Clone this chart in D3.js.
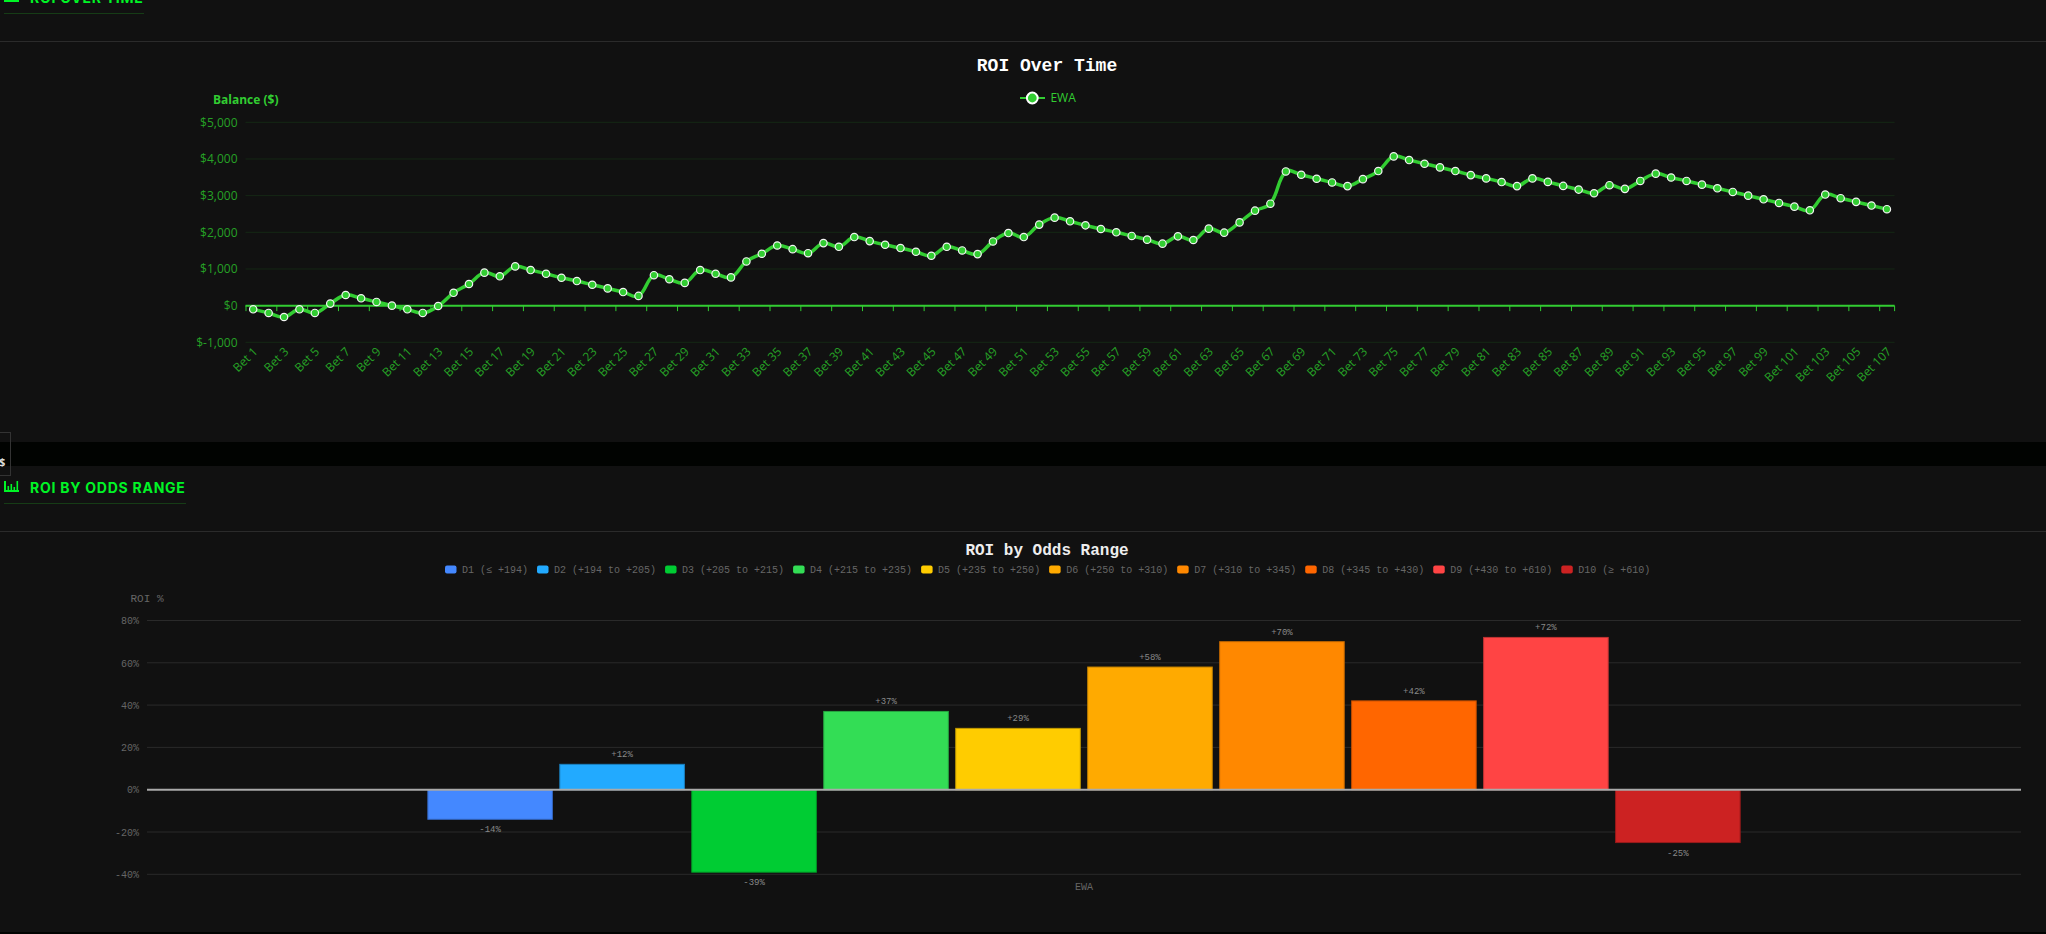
<!DOCTYPE html>
<html>
<head>
<meta charset="utf-8">
<script src="https://cdn.jsdelivr.net/npm/d3@7"></script>
<style>
  html, body { margin: 0; padding: 0; background: #111111; overflow: hidden; }
  svg { display: block; }
  .mono { font-family: "Liberation Mono", monospace; }
  .sans { font-family: "Open Sans", sans-serif; }
  .head { font-family: Inter, sans-serif; font-weight: 700; font-size: 14px; letter-spacing: 0.75px; fill: #00f526; }
</style>
</head>
<body>
<svg id="page" width="2046" height="934"></svg>
<script>
// Running balance after each bet
const betBalances = [
  -100,-200,-310,-100,-200,55,290,200,100,0,-100,-200,-10,350,590,900,800,1070,970,870,
  760,670,570,470,370,265,830,720,620,970,870,770,1205,1415,1640,1540,1430,1705,1605,1870,
  1760,1660,1570,1470,1360,1605,1505,1405,1750,1980,1870,2210,2400,2300,2190,2090,2000,1900,1800,1690,
  1890,1790,2100,1990,2270,2590,2780,3660,3570,3460,3360,3260,3450,3670,4070,3970,3870,3770,3670,3560,
  3470,3370,3260,3470,3375,3265,3165,3065,3285,3185,3400,3600,3495,3400,3300,3200,3100,3000,2900,2800,
  2700,2600,3030,2930,2830,2730,2630
];
const betLabels = betBalances.map((_, i) => `Bet ${i + 1}`);
const balanceTicks = [-1000, 0, 1000, 2000, 3000, 4000, 5000];

// ROI per odds decile
const oddsRanges = [
  "D1 (≤ +194)", "D2 (+194 to +205)", "D3 (+205 to +215)", "D4 (+215 to +235)", "D5 (+235 to +250)",
  "D6 (+250 to +310)", "D7 (+310 to +345)", "D8 (+345 to +430)", "D9 (+430 to +610)", "D10 (≥ +610)"
];
const roiValues = [-14, 12, -39, 37, 29, 58, 70, 42, 72, -25];
const oddsColors = ["#4488ff","#22aaff","#00cc33","#33dd55","#ffcc00","#ffaa00","#ff8800","#ff6600","#ff4444","#cc2222"];
const roiTicks = [-40, -20, 0, 20, 40, 60, 80];
const strategies = ["EWA"];

const GREEN = "#32cd32";
const svg = d3.select("#page");

// Distance-weighted bezier spline (tension 0.4), used as a d3 curve factory
function tensionSpline(context) {
  let pts = [];
  return {
    areaStart() {}, areaEnd() {},
    lineStart() { pts = []; },
    point(x, y) { pts.push([+x, +y]); },
    lineEnd() {
      const t = 0.4, n = pts.length;
      const ctrl = pts.map((p, i) => {
        const a = pts[Math.max(i - 1, 0)], b = pts[Math.min(i + 1, n - 1)];
        const d01 = Math.hypot(p[0] - a[0], p[1] - a[1]);
        const d12 = Math.hypot(b[0] - p[0], b[1] - p[1]);
        const sum = (d01 + d12) || 1;
        const fa = t * d01 / sum, fb = t * d12 / sum;
        return {
          prev: [p[0] - fa * (b[0] - a[0]), p[1] - fa * (b[1] - a[1])],
          next: [p[0] + fb * (b[0] - a[0]), p[1] + fb * (b[1] - a[1])]
        };
      });
      context.moveTo(pts[0][0], pts[0][1]);
      for (let i = 1; i < n; i++) {
        context.bezierCurveTo(ctrl[i - 1].next[0], ctrl[i - 1].next[1], ctrl[i].prev[0], ctrl[i].prev[1], pts[i][0], pts[i][1]);
      }
    }
  };
}

// Page panels and dividers
svg.append("rect").attr("width", 2046).attr("height", 934).attr("fill", "#111111");
svg.append("rect").attr("y", 442).attr("width", 2046).attr("height", 24).attr("fill", "#010301");
svg.append("rect").attr("y", 932).attr("width", 2046).attr("height", 2).attr("fill", "#010301");
svg.append("rect").attr("x", -10).attr("y", 432.5).attr("width", 20.5).attr("height", 43)
  .attr("fill", "none").attr("stroke", "#333");
svg.append("text").attr("x", -1).attr("y", 465.5).attr("class", "sans")
  .attr("font-size", 11).attr("font-weight", 700).attr("fill", "#ddd").text("$");

// Section heading: icon, caps title, underline, divider
function sectionHeader(offset, label, underlineEnd) {
  const g = svg.append("g").attr("transform", `translate(0,${offset})`);
  const icon = g.append("g").attr("fill", "#00f526");
  icon.append("rect").attr("x", 4).attr("y", 481).attr("width", 2).attr("height", 11);
  icon.append("rect").attr("x", 4).attr("y", 490).attr("width", 15).attr("height", 2);
  [[8, 486, 3], [11, 484, 5], [14, 487, 2], [17, 481, 8]].forEach(([x, y, h]) =>
    icon.append("rect").attr("x", x - 0.5).attr("y", y).attr("width", 1.6).attr("height", h + 1));
  g.append("text").attr("class", "head").attr("x", 30).attr("y", 492.6).text(label);
  g.append("rect").attr("x", 4).attr("y", 503).attr("width", underlineEnd - 4).attr("height", 1).attr("fill", "#163c16");
  g.append("rect").attr("x", 0).attr("y", 531).attr("width", 2046).attr("height", 1).attr("fill", "#2b2b2b");
}
sectionHeader(-490, "ROI OVER TIME", 144);
sectionHeader(0, "ROI BY ODDS RANGE", 186);

// ---- Balance line chart ----
const lineBox = { left: 245.5, right: 1894.6, top: 122.3, bottom: 342.3 };
const xBet = d3.scaleBand().domain(betLabels).range([lineBox.left, lineBox.right]);
const yBal = d3.scaleLinear().domain([-1000, 5000]).range([lineBox.bottom, lineBox.top]);

const lineChart = svg.append("g");
const yAxisLine = d3.axisLeft(yBal).tickValues(balanceTicks)
  .tickSize(0).tickPadding(8)
  .tickFormat(v => "$" + v.toLocaleString("en-US"));
const yLine = lineChart.append("g").attr("transform", `translate(${lineBox.left},0)`).call(yAxisLine);
yLine.select(".domain").remove();
yLine.selectAll("text").attr("class", "sans").attr("font-size", 12).attr("fill", "#26a126");

lineChart.append("g").selectAll("line").data(balanceTicks.filter(v => v !== 0)).join("line")
  .attr("x1", lineBox.left).attr("x2", lineBox.right)
  .attr("y1", d => yBal(d)).attr("y2", d => yBal(d))
  .attr("stroke", GREEN).attr("stroke-opacity", 0.12);

// Tick marks sit on band edges, labels hang from every other bet
const xAxisLine = d3.axisBottom(xBet)
  .tickValues(betLabels.filter((_, i) => i % 2 === 0))
  .tickSize(0);
const xLine = lineChart.append("g").attr("transform", `translate(0,${yBal(0)})`).call(xAxisLine);
xLine.select(".domain").remove();
xLine.selectAll(".tick text")
  .attr("class", "sans").attr("font-size", 12).attr("fill", "#26a126")
  .attr("text-anchor", "end")
  .attr("transform", "translate(2.5,44) rotate(-45)")
  .attr("x", 0).attr("y", 0).attr("dy", "0.32em");

const edgeTicks = betLabels.filter((_, i) => i % 2 === 0).map(b => xBet(b)).concat([lineBox.right - 0.5]);
lineChart.append("g").selectAll("line").data(edgeTicks).join("line")
  .attr("x1", d => d + 0.5).attr("x2", d => d + 0.5)
  .attr("y1", yBal(0)).attr("y2", yBal(0) + 5.5)
  .attr("stroke", GREEN).attr("stroke-width", 1);
lineChart.append("line").attr("x1", lineBox.left).attr("x2", lineBox.right)
  .attr("y1", yBal(0)).attr("y2", yBal(0)).attr("stroke", GREEN).attr("stroke-width", 2);

const balancePath = d3.line()
  .x((_, i) => xBet(betLabels[i]) + xBet.bandwidth() / 2)
  .y(d => yBal(d))
  .curve(tensionSpline);
lineChart.append("path").datum(betBalances).attr("d", balancePath)
  .attr("fill", "none").attr("stroke", GREEN).attr("stroke-width", 3.5);
lineChart.append("g").selectAll("circle").data(betBalances).join("circle")
  .attr("cx", (_, i) => xBet(betLabels[i]) + xBet.bandwidth() / 2)
  .attr("cy", d => yBal(d)).attr("r", 3.7)
  .attr("fill", GREEN).attr("stroke", "#f4f4f4").attr("stroke-width", 1.2);

lineChart.append("text").attr("class", "mono").attr("x", 1047).attr("y", 70.5)
  .attr("text-anchor", "middle").attr("font-size", 18).attr("font-weight", 700).attr("fill", "#fff")
  .text("ROI Over Time");
lineChart.append("line").attr("x1", 1020).attr("x2", 1045).attr("y1", 98).attr("y2", 98)
  .attr("stroke", GREEN).attr("stroke-width", 2);
lineChart.append("circle").attr("cx", 1032.3).attr("cy", 98).attr("r", 5.4)
  .attr("fill", GREEN).attr("stroke", "#fff").attr("stroke-width", 2);
lineChart.append("text").attr("class", "sans").attr("x", 1050.4).attr("y", 102.2)
  .attr("font-size", 12).attr("fill", GREEN).text(strategies[0]);
lineChart.append("text").attr("class", "sans").attr("x", 213).attr("y", 104)
  .attr("font-size", 12).attr("font-weight", 700).attr("fill", GREEN).text("Balance ($)");

// ---- ROI bar chart ----
const barBox = { left: 147, right: 2021, top: 620.5, bottom: 874.3 };
const xGroup = d3.scaleBand().domain(strategies).range([barBox.left, barBox.right]).paddingInner(0).paddingOuter(0.21);
const xDecile = d3.scaleBand().domain(oddsRanges)
  .range([xGroup(strategies[0]), xGroup(strategies[0]) + xGroup.bandwidth()])
  .paddingInner(0.056).paddingOuter(0.028);
const yRoi = d3.scaleLinear().domain([-40, 80]).range([barBox.bottom, barBox.top]);

const barChart = svg.append("g");
const yAxisBar = d3.axisLeft(yRoi).tickValues(roiTicks).tickSize(0).tickPadding(8).tickFormat(v => v + "%");
const yBar = barChart.append("g").attr("transform", `translate(${barBox.left},0)`).call(yAxisBar);
yBar.select(".domain").remove();
yBar.selectAll("text").attr("class", "mono").attr("font-size", 10).attr("fill", "#666");

barChart.append("g").selectAll("line").data(roiTicks.filter(v => v !== 0)).join("line")
  .attr("x1", barBox.left).attr("x2", barBox.right)
  .attr("y1", d => yRoi(d)).attr("y2", d => yRoi(d))
  .attr("stroke", "#2a2a2a");

barChart.append("g").selectAll("rect").data(roiValues).join("rect")
  .attr("x", (_, i) => xDecile(oddsRanges[i]))
  .attr("width", xDecile.bandwidth())
  .attr("y", d => Math.min(yRoi(d), yRoi(0)))
  .attr("height", d => Math.abs(yRoi(d) - yRoi(0)))
  .attr("fill", (_, i) => oddsColors[i])
  .attr("stroke", (_, i) => d3.color(oddsColors[i]).darker(0.8))
  .attr("stroke-width", 1);

barChart.append("line").attr("x1", barBox.left).attr("x2", barBox.right)
  .attr("y1", yRoi(0)).attr("y2", yRoi(0)).attr("stroke", "#aaa").attr("stroke-width", 2);

barChart.append("g").selectAll("text").data(roiValues).join("text")
  .attr("class", "mono").attr("font-size", 9).attr("fill", "#888").attr("text-anchor", "middle")
  .attr("x", (_, i) => xDecile(oddsRanges[i]) + xDecile.bandwidth() / 2)
  .attr("y", d => d > 0 ? yRoi(d) - 7 : yRoi(d) + 13)
  .text(d => (d > 0 ? "+" : "") + d + "%");

barChart.append("text").attr("class", "mono").attr("x", 1047).attr("y", 554.5)
  .attr("text-anchor", "middle").attr("font-size", 16).attr("font-weight", 700).attr("fill", "#eee")
  .text("ROI by Odds Range");
barChart.append("text").attr("class", "mono").attr("x", 147).attr("y", 602)
  .attr("text-anchor", "middle").attr("font-size", 11).attr("fill", "#666").text("ROI %");
barChart.append("text").attr("class", "mono").attr("x", (barBox.left + barBox.right) / 2).attr("y", 890)
  .attr("text-anchor", "middle").attr("font-size", 10).attr("fill", "#666").text(strategies[0]);

// Legend: items flow left to right using measured label widths
const legend = barChart.append("g");
let legendX = 445;
oddsRanges.forEach((name, i) => {
  legend.append("rect").attr("x", legendX).attr("y", 565.5).attr("width", 11.5).attr("height", 8)
    .attr("rx", 2).attr("fill", oddsColors[i]);
  const label = legend.append("text").attr("class", "mono").attr("x", legendX + 17).attr("y", 573)
    .attr("font-size", 10).attr("fill", "#666").text(name);
  legendX += 17 + label.node().getComputedTextLength() + 9;
});
</script>
</body>
</html>
